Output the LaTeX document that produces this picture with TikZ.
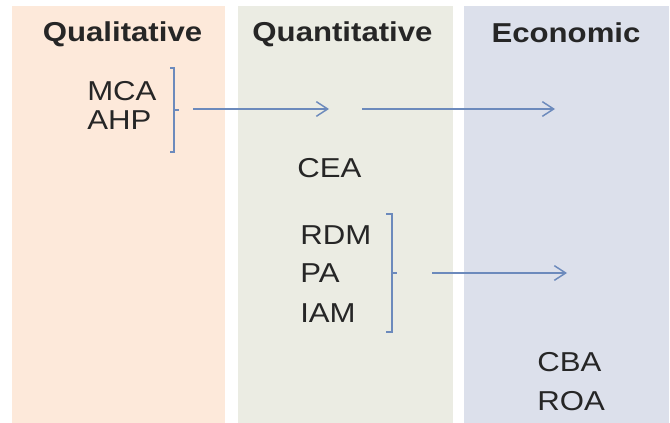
\documentclass[tikz,border=0pt]{standalone}
\usepackage{fontspec}
\setmainfont{Liberation Sans}[FakeStretch=1.14]
\usepackage{tikz}
\usetikzlibrary{arrows.meta}

\definecolor{qualfill}{RGB}{253,233,218}
\definecolor{quantfill}{RGB}{235,236,227}
\definecolor{econfill}{RGB}{220,224,235}
\definecolor{linkblue}{RGB}{108,138,188}
\definecolor{txtgray}{RGB}{38,38,38}

\tikzset{
  head/.style={font=\bfseries\fontsize{20.5}{23}\selectfont, text=txtgray, inner sep=0pt, anchor=base},
  method/.style={font=\fontsize{20.5}{23}\selectfont, text=txtgray, inner sep=0pt, anchor=base west},
  link/.style={linkblue, line width=1.1pt, -{Straight Barb[length=8.5pt,width=11pt]}},
  brace/.style={linkblue, line width=1.1pt}
}

\begin{document}
\begin{tikzpicture}[x=0.75pt,y=-0.75pt]
\useasboundingbox (0,0) rectangle (670,423);

% column backgrounds
\fill[qualfill]  (12,6) rectangle (225,423);
\fill[quantfill] (238,6) rectangle (453,423);
\fill[econfill]  (464,6) rectangle (669,423);

% headings
\node[head] (qual)  at (122.5,42) {Qualitative};
\node[head] (quant) at (342.5,42) {Quantitative};
\node[head] (econ)  at (566,43) {Economic};

% methods
\foreach \n/\x/\y/\t in {mca/87/101/MCA, ahp/87/130/AHP, cea/297/178/CEA,
  rdm/300/245/RDM, pa/300/283/PA, iam/300/323/IAM, cba/537/372/CBA, roa/537/410/ROA}
  \node[method] (\n) at (\x,\y) {\t};

% brackets
\draw[brace] (170,68) -- (174,68) -- (174,152) -- (170,152);
\draw[brace] (174,110) -- (179,110);
\draw[brace] (386,214) -- (392,214) -- (392,332) -- (386,332);
\draw[brace] (392,273) -- (397,273);

% arrows
\coordinate (a1) at (193,109); \coordinate (b1) at (329,109);
\coordinate (a2) at (362,109); \coordinate (b2) at (555,109);
\coordinate (a3) at (432,273); \coordinate (b3) at (567,273);
\foreach \s/\e in {a1/b1, a2/b2, a3/b3}
  \draw[link] (\s) -- (\e);
\end{tikzpicture}
\end{document}
